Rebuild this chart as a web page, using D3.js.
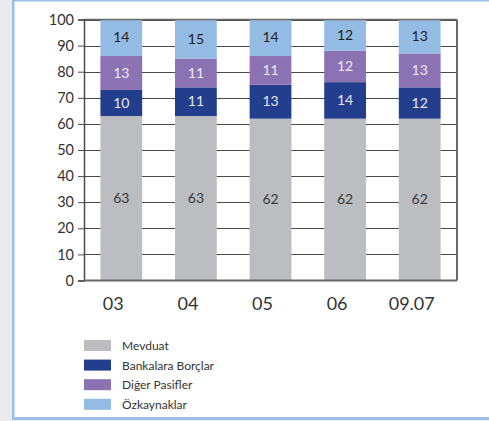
<!DOCTYPE html>
<html>
<head>
<meta charset="utf-8">
<script src="https://cdn.jsdelivr.net/npm/d3@7"></script>
<style>
  html, body { margin: 0; padding: 0; background: #ebebed; }
  svg { display: block; font-family: "Lato", "DejaVu Sans", sans-serif; }
</style>
</head>
<body>
<svg id="chart" width="489" height="421"></svg>
<script>
// Funding structure by year (percent of total liabilities)
const categories = ["03", "04", "05", "06", "09.07"];
const seriesNames = ["Mevduat", "Bankalara Borçlar", "Diğer Pasifler", "Özkaynaklar"];
const mevduat = [63, 63, 62, 62, 62];
const bankalaraBorclar = [10, 11, 13, 14, 12];
const digerPasifler = [13, 11, 11, 12, 13];
const ozkaynaklar = [14, 15, 14, 12, 13];
const yTicks = [0, 10, 20, 30, 40, 50, 60, 70, 80, 90, 100];

const seriesValues = [mevduat, bankalaraBorclar, digerPasifler, ozkaynaklar];
const colors = ["#bcbdc0", "#243e8e", "#8a72b3", "#94bbe4"];
const labelColors = ["#3a3a3a", "#e6e6ef", "#eeeaf4", "#222222"];

const svg = d3.select("#chart");

// Panel: grey strip on the left, white card with light blue rules
svg.append("rect").attr("x", 0).attr("y", 0).attr("width", 489).attr("height", 421).attr("fill", "#ebebed");
svg.append("rect").attr("x", 12).attr("y", 0).attr("width", 477).attr("height", 420).attr("fill", "#ffffff");
svg.append("rect").attr("x", 12).attr("y", 0).attr("width", 477).attr("height", 1.5).attr("fill", "#9cc0e6");
svg.append("rect").attr("x", 12).attr("y", 0).attr("width", 2.5).attr("height", 420).attr("fill", "#9cc0e6");
svg.append("rect").attr("x", 12).attr("y", 417).attr("width", 477).attr("height", 3).attr("fill", "#9cc0e6");

const margin = { left: 84, right: 457, top: 19.5, bottom: 280.5 };

const x = d3.scaleBand()
  .domain(categories)
  .range([margin.left, margin.right])
  .paddingInner(0.44)
  .paddingOuter(0.22);

const y = d3.scaleLinear()
  .domain([0, 100])
  .range([margin.bottom, margin.top]);

// Horizontal gridlines
svg.append("g")
  .selectAll("line")
  .data(yTicks.filter(t => t > 0))
  .join("line")
  .attr("x1", margin.left)
  .attr("x2", margin.right)
  .attr("y1", d => Math.round(y(d)) + 0.5)
  .attr("y2", d => Math.round(y(d)) + 0.5)
  .attr("stroke", "#4a4a4a")
  .attr("stroke-width", 1);

// Stacked bars
const rows = categories.map((c, i) => {
  const r = { cat: c };
  seriesNames.forEach((s, j) => { r[s] = seriesValues[j][i]; });
  return r;
});
const stacked = d3.stack().keys(seriesNames)(rows);

const layers = svg.append("g")
  .selectAll("g")
  .data(stacked)
  .join("g")
  .attr("fill", (d, i) => colors[i]);

layers.selectAll("rect")
  .data(d => d)
  .join("rect")
  .attr("x", d => x(d.data.cat))
  .attr("width", x.bandwidth())
  .attr("y", d => y(d[1]))
  .attr("height", d => y(d[0]) - y(d[1]));

// Segment value labels
stacked.forEach((layer, i) => {
  svg.append("g")
    .selectAll("text")
    .data(layer)
    .join("text")
    .attr("x", d => x(d.data.cat) + x.bandwidth() / 2)
    .attr("y", d => (y(d[0]) + y(d[1])) / 2 + 4.5)
    .attr("text-anchor", "middle")
    .attr("font-size", 14)
    .attr("fill", labelColors[i])
    .text(d => d[1] - d[0]);
});

// Plot frame: top and right borders
svg.append("line")
  .attr("x1", margin.left).attr("x2", margin.right)
  .attr("y1", margin.top).attr("y2", margin.top)
  .attr("stroke", "#6b6b6b").attr("stroke-width", 1.5);
svg.append("line")
  .attr("x1", margin.right).attr("x2", margin.right)
  .attr("y1", margin.top).attr("y2", margin.bottom)
  .attr("stroke", "#6b6b6b").attr("stroke-width", 2);

// Y axis
const yAxis = svg.append("g")
  .attr("transform", `translate(${margin.left},0)`)
  .call(d3.axisLeft(y).tickValues(yTicks).tickSize(6).tickPadding(4));
yAxis.select(".domain").attr("stroke", "#4a4a4a").attr("stroke-width", 1.5);
yAxis.selectAll(".tick line").attr("stroke", "#4a4a4a");
yAxis.selectAll(".tick text")
  .attr("font-size", 14.5)
  .attr("font-family", "Lato, 'DejaVu Sans', sans-serif")
  .attr("fill", "#333333");

// X axis (category labels sit slightly left of the bar centres)
const xAxis = svg.append("g")
  .attr("transform", `translate(0,${margin.bottom})`)
  .call(d3.axisBottom(x).tickSize(0).tickPadding(17));
xAxis.select(".domain")
  .attr("d", `M${margin.left},0H${margin.right}`)
  .attr("stroke", "#6b6b6b").attr("stroke-width", 2);
xAxis.selectAll(".tick text")
  .attr("dx", -8)
  .attr("font-size", 18)
  .attr("font-family", "Lato, 'DejaVu Sans', sans-serif")
  .attr("fill", "#333333");

// Legend
const legend = svg.append("g")
  .selectAll("g")
  .data(seriesNames)
  .join("g")
  .attr("transform", (d, i) => `translate(84,${340 + i * 19.6})`);
legend.append("rect")
  .attr("width", 27)
  .attr("height", 11)
  .attr("fill", (d, i) => colors[i]);
legend.append("text")
  .attr("x", 38)
  .attr("y", 10)
  .attr("font-size", 12)
  .attr("fill", "#333333")
  .text(d => d);
</script>
</body>
</html>
